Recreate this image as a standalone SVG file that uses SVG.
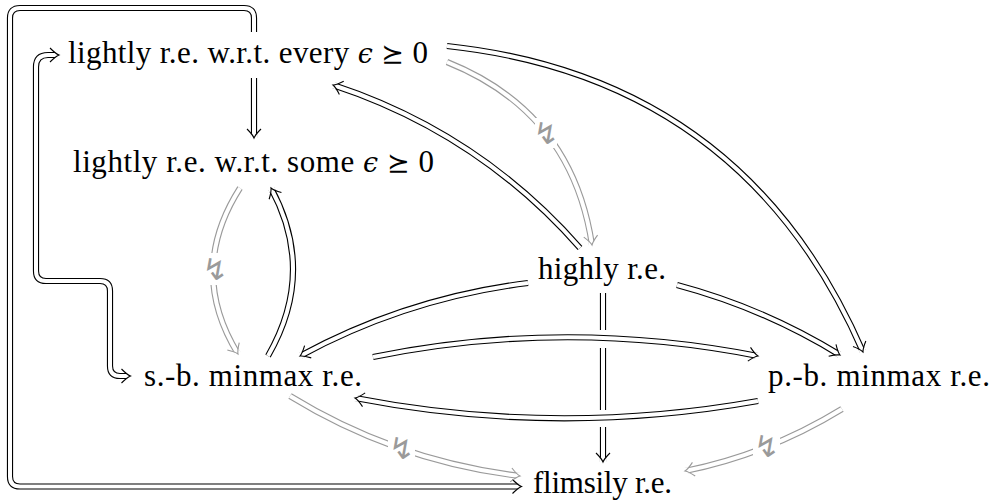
<svg xmlns="http://www.w3.org/2000/svg" width="992" height="501" viewBox="0 0 992 501">
<style>
.t{font-family:"Liberation Serif","Times New Roman",serif;font-size:31px;fill:#000}
.m{font-style:italic;font-family:"DejaVu Serif","Liberation Serif",serif;font-size:27px}
.s{font-family:"DejaVu Sans","Noto Sans",sans-serif;font-size:27px}
.o{fill:none;stroke:#000;stroke-width:6.2}
.og{fill:none;stroke:#9a9a9a;stroke-width:6.2}
.i{fill:none;stroke:#fff;stroke-width:4}
.a{marker-end:url(#ah)}
.ag{marker-end:url(#ahg)}
.lb{font-family:"DejaVu Sans","Noto Sans",sans-serif;font-size:30px;fill:#9a9a9a;text-anchor:middle}
.bg{fill:#fff}
</style>
<defs>
<marker id="ah" markerUnits="userSpaceOnUse" markerWidth="20" markerHeight="20" viewBox="-10 -10 20 20" refX="0" refY="0" orient="auto-start-reverse" overflow="visible">
<path d="M-4.92,-3.19 Q-2.1,-0.84 0,0 Q-2.1,0.84 -4.92,3.19 L1.5,3.6 L1.5,-3.6 Z" fill="#fff"/>
<path d="M-9,-7 Q-3.5,-1.4 0,0 Q-3.5,1.4 -9,7" fill="none" stroke="#000" stroke-width="1.1"/>
</marker>
<marker id="ahg" markerUnits="userSpaceOnUse" markerWidth="20" markerHeight="20" viewBox="-10 -10 20 20" refX="0" refY="0" orient="auto" overflow="visible">
<path d="M-4.92,-3.19 Q-2.1,-0.84 0,0 Q-2.1,0.84 -4.92,3.19 L1.5,3.6 L1.5,-3.6 Z" fill="#fff"/>
<path d="M-9,-7 Q-3.5,-1.4 0,0 Q-3.5,1.4 -9,7" fill="none" stroke="#9a9a9a" stroke-width="1.1"/>
</marker>
</defs>

<g id="connectors">
  <!-- every -> some -->
  <path class="o" d="M254,78 V138"/><path class="i a" d="M254,78 V138"/>
  <!-- every -> flimsily (outer loop) -->
  <path class="o" d="M254,32 V18 Q254,8 244,8 H20 Q10,8 10,18 V476.5 Q10,486.5 20,486.5 H521.5"/>
  <path class="i a" d="M254,32 V18 Q254,8 244,8 H20 Q10,8 10,18 V476.5 Q10,486.5 20,486.5 H521.5"/>
  <!-- every <-> s.-b. (inner loop) -->
  <path class="o" d="M59,55 H48 Q36,55 36,67 V271 Q36,281 46,281 H100 Q110,281 110,291 V366 Q110,376 120,376 H130.5"/>
  <path class="i a" style="marker-start:url(#ah)" d="M59,55 H48 Q36,55 36,67 V271 Q36,281 46,281 H100 Q110,281 110,291 V366 Q110,376 120,376 H130.5"/>
  <!-- highly -> flimsily (broken at crossings) -->
  <path class="o" d="M603,293 V330 M603,348 V410"/><path class="i" d="M603,293 V330 M603,348 V410"/>
  <path class="o" d="M603,427 V462"/><path class="i a" d="M603,427 V462"/>
  <!-- s.-b. -> some -->
  <path class="o" d="M268,356 Q316.5,272 271,188"/><path class="i a" d="M268,356 Q316.5,272 271,188"/>
  <!-- highly -> every -->
  <path class="o" d="M580,248 Q479,133 333,85"/><path class="i a" d="M580,248 Q479,133 333,85"/>
  <!-- every -> p.-b. -->
  <path class="o" d="M447,46 Q744,78 863,352"/><path class="i a" d="M447,46 Q744,78 863,352"/>
  <!-- highly -> s.-b. -->
  <path class="o" d="M528,283 Q407,298 300,356"/><path class="i a" d="M528,283 Q407,298 300,356"/>
  <!-- highly -> p.-b. -->
  <path class="o" d="M677,285 Q763.6,308 840,355"/><path class="i a" d="M677,285 Q763.6,308 840,355"/>
  <!-- s.-b. -> p.-b. -->
  <path class="o" d="M373,357 Q565,318 758,356"/><path class="i a" d="M373,357 Q565,318 758,356"/>
  <!-- p.-b. -> s.-b. -->
  <path class="o" d="M758,401 Q556,437 355,398"/><path class="i a" d="M758,401 Q556,437 355,398"/>
  <!-- gray: some -> s.-b. -->
  <path class="og" d="M240,188 Q187,271 238,354"/><path class="i ag" d="M240,188 Q187,271 238,354"/>
  <!-- gray: every -> highly -->
  <path class="og" d="M447,62 Q572,112 592,245"/><path class="i ag" d="M447,62 Q572,112 592,245"/>
  <!-- gray: s.-b. -> flimsily -->
  <path class="og" d="M290,396 Q396,461 520,476"/><path class="i ag" d="M290,396 Q396,461 520,476"/>
  <!-- gray: p.-b. -> flimsily -->
  <path class="og" d="M842,409 Q768.7,454 685,471"/><path class="i ag" d="M842,409 Q768.7,454 685,471"/>
  <!-- lightning labels -->
  <rect class="bg" x="204" y="253" width="22" height="32"/>
  <text class="lb" x="215" y="280">↯</text>
  <rect class="bg" x="535" y="118" width="22" height="30"/>
  <text class="lb" x="546" y="144">↯</text>
  <rect class="bg" x="388" y="433.5" width="27" height="30"/>
  <text class="lb" x="401.5" y="459">↯</text>
  <rect class="bg" x="753" y="431" width="27" height="30"/>
  <text class="lb" x="766.5" y="457">↯</text>
</g>

<g id="n-every"><text class="t" x="68" y="63" textLength="360">lightly r.e. w.r.t. every <tspan class="m">ϵ</tspan> <tspan class="s">⪰</tspan> 0</text></g>
<g id="n-some"><text class="t" x="73" y="172" textLength="361">lightly r.e. w.r.t. some <tspan class="m">ϵ</tspan> <tspan class="s">⪰</tspan> 0</text></g>
<g id="n-highly"><text class="t" x="538" y="279" textLength="128">highly r.e.</text></g>
<g id="n-sb"><text class="t" x="144" y="386" textLength="218">s.-b. minmax r.e.</text></g>
<g id="n-pb"><text class="t" x="768" y="386" textLength="222">p.-b. minmax r.e.</text></g>
<g id="n-flimsily"><text class="t" x="533" y="493" textLength="139">flimsily r.e.</text></g>
</svg>
